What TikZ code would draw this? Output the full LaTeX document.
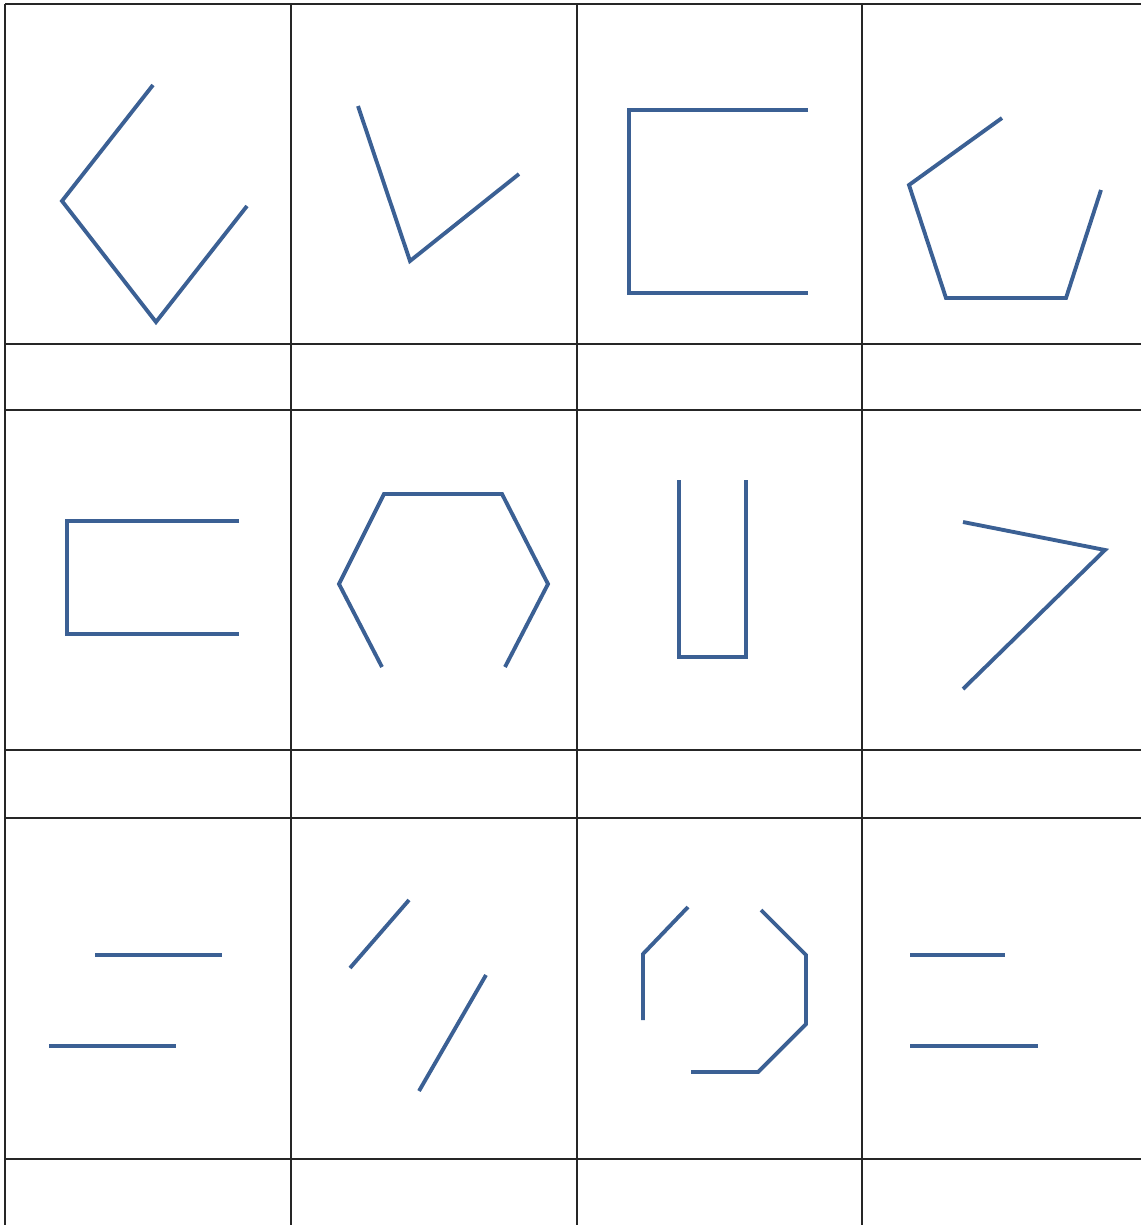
\documentclass[tikz,border=0pt]{standalone}
\usepackage{tikz}
\definecolor{shapeblue}{RGB}{59,96,148}

\begin{document}
\begin{tikzpicture}[x=0.02cm, y=-0.02cm,
    grid/.style={draw=black!85, line width=0.9pt},
    figline/.style={draw=shapeblue, line width=2.2pt, line join=miter}]
    \useasboundingbox (0,0) rectangle (1141,1225);
    % table lines
    \foreach \gx in {5,291,577,862}
      \draw[grid] (\gx,4) -- (\gx,1225);
    \foreach \gy in {4,344,410,750,818,1159}
      \draw[grid] (5,\gy) -- (1141,\gy);
    % row 1
    \draw[figline] (153,85) -- (62,201) -- (156,322) -- (247,206);
    \draw[figline] (358,106) -- (410,261) -- (519,174);
    \draw[figline] (808,110) -- (629,110) -- (629,293) -- (808,293);
    \draw[figline] (1002,118) -- (909,185) -- (946,298) -- (1066,298) -- (1101,190);
    % row 2
    \draw[figline] (239,521) -- (67,521) -- (67,634) -- (239,634);
    \draw[figline] (382,667) -- (339,584) -- (384,494) -- (502,494) -- (548,584) -- (505,667);
    \draw[figline] (679,480) -- (679,657) -- (746,657) -- (746,480);
    \draw[figline] (963,522) -- (1105,550) -- (963,689);
    % row 3
    \draw[figline] (95,955) -- (222,955);
    \draw[figline] (49,1046) -- (176,1046);
    \draw[figline] (350,968) -- (409,900);
    \draw[figline] (486,975) -- (419,1091);
    \draw[figline] (688,907) -- (643,954) -- (643,1020);
    \draw[figline] (691,1072) -- (758,1072) -- (806,1024) -- (806,955) -- (761,910);
    \draw[figline] (910,955) -- (1005,955);
    \draw[figline] (910,1046) -- (1038,1046);
  \end{tikzpicture}
\end{document}
